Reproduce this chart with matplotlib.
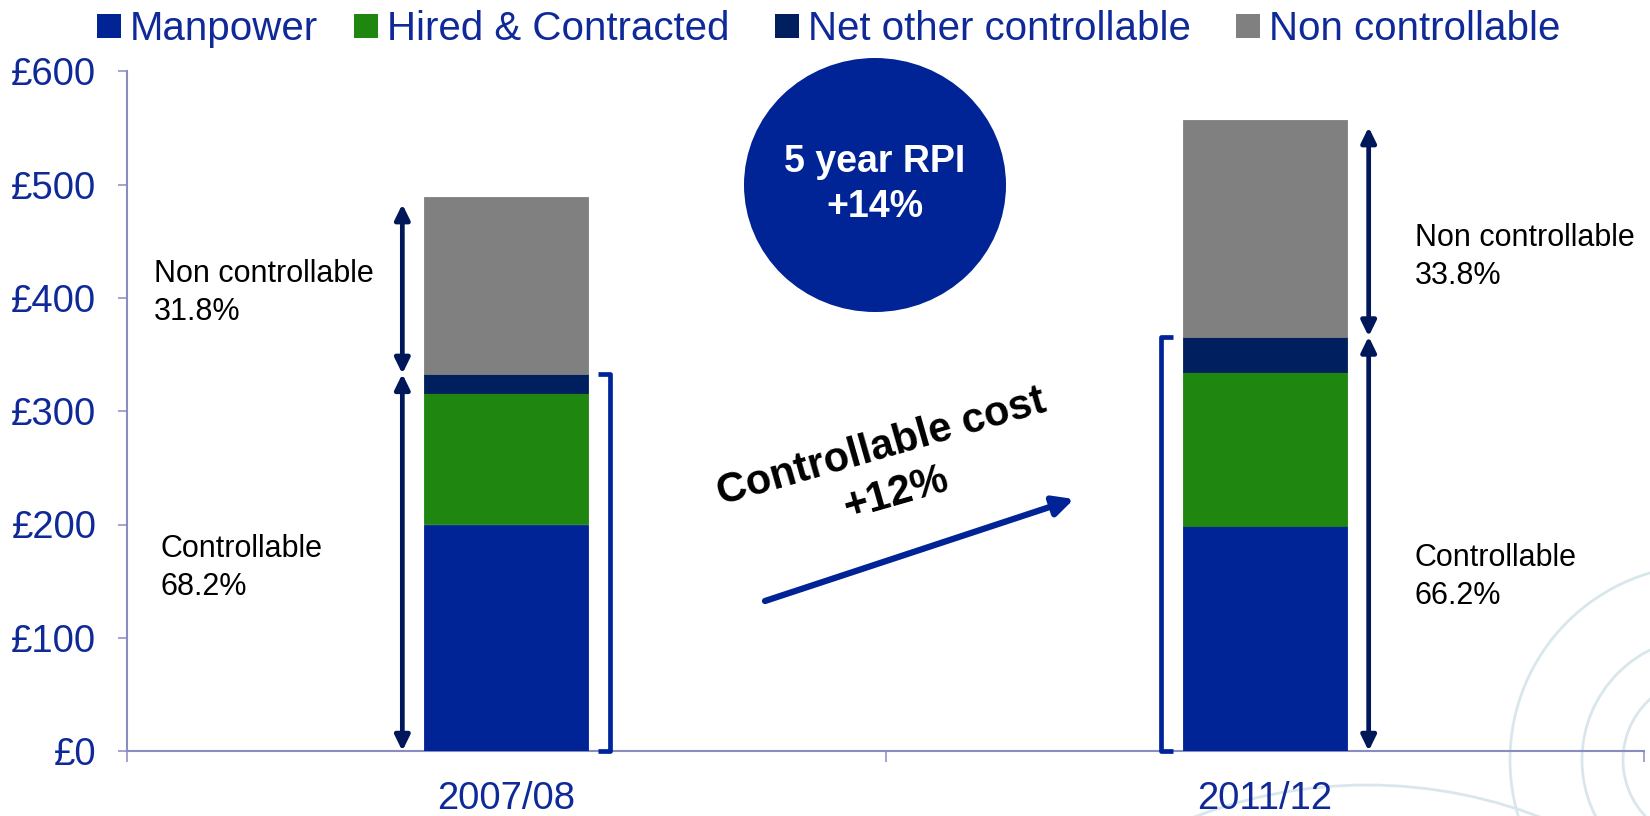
import matplotlib
matplotlib.use('Agg')
import matplotlib.pyplot as plt
from matplotlib.patches import Rectangle, Ellipse, Circle
import numpy as np

# ---------------- data ----------------
years = ['2007/08', '2011/12']
series_names = ['Manpower', 'Hired & Contracted', 'Net other controllable', 'Non controllable']
manpower = [200, 199]
hired = [116, 136]
net_other = [17, 31]
non_controllable = [156, 191]
ctrl_labels = [('Controllable', '68.2%'), ('Controllable', '66.2%')]
nonctrl_labels = [('Non controllable', '31.8%'), ('Non controllable', '33.8%')]
yticks = [0, 100, 200, 300, 400, 500, 600]
ytick_labels = ['£0', '£100', '£200', '£300', '£400', '£500', '£600']
rpi_text = ('5 year RPI', '+14%')
growth_text = ('Controllable cost', '+12%')

# ---------------- style ----------------
colors = ['#002395', '#1f860f', '#001f5f', '#808080']
TXT_BLUE = '#0f2a98'
AXIS_C = '#8a8cc0'
ARROW_C = '#00185a'
BRACKET_C = '#00259a'
DECO_C = '#d9e7ec'

plt.rcParams['font.family'] = ['Liberation Sans', 'DejaVu Sans']

W, H, DPI = 1650, 816, 100
fig = plt.figure(figsize=(W / DPI, H / DPI), dpi=DPI)
fig.patch.set_facecolor('white')


def fx(x):
    return x / W


def fy(y):
    return 1 - y / H


# decorative background arcs (template)
for (cx, cy, r) in [(1705, 760, 195), (1705, 760, 123), (1705, 760, 82), (1367, 1268, 483)]:
    fig.add_artist(Circle((cx / DPI, (H - cy) / DPI), r / DPI, transform=fig.dpi_scale_trans,
                          fill=False, ec=DECO_C, lw=2, zorder=-1))

ax = fig.add_axes([fx(127), fy(751), (1644 - 127) / W, (751 - 71.5) / H])
ax.patch.set_visible(False)

x = np.arange(len(years))
bw = 0.216
bottom = np.zeros(len(years))
for vals, c in zip([manpower, hired, net_other, non_controllable], colors):
    ax.bar(x, vals, bw, bottom=bottom, color=c, edgecolor=c, linewidth=0.6, zorder=3)
    bottom += np.array(vals)
totals = bottom
ctrl = np.array(manpower) + np.array(hired) + np.array(net_other)

ax.set_xlim(-0.5, 1.5)
ax.set_ylim(0, 600)
for s in ['top', 'right']:
    ax.spines[s].set_visible(False)
for s in ['left', 'bottom']:
    ax.spines[s].set_color(AXIS_C)
    ax.spines[s].set_linewidth(1.5)

ax.set_yticks(yticks, ytick_labels)
ax.tick_params(axis='y', length=6.5, width=1.1, color=AXIS_C, pad=15.5,
               labelsize=27.5, labelcolor=TXT_BLUE)
ax.set_xticks([-0.5, 0.5, 1.5])
ax.set_xticklabels([])
ax.set_xticks(x, minor=True)
ax.set_xticklabels(years, minor=True)
ax.tick_params(axis='x', which='major', length=8, width=1.1, color=AXIS_C)
ax.tick_params(axis='x', which='minor', length=0, pad=21.5, labelsize=27.5, labelcolor=TXT_BLUE)

# double arrows & brackets
arrow_side = [-1, 1]
off = 0.137
hook = 0.016
for i in range(len(years)):
    xa = x[i] + arrow_side[i] * off
    for (y1, y2, sh) in [(totals[i], ctrl[i], 5), (ctrl[i], 0, 0)]:
        ax.annotate('', xy=(xa, y2), xytext=(xa, y1),
                    arrowprops=dict(arrowstyle='<|-|>,head_length=0.45,head_width=0.22',
                                    mutation_scale=20, lw=3.4, color=ARROW_C,
                                    shrinkA=sh, shrinkB=0),
                    annotation_clip=False, zorder=4)
    xb = x[i] - arrow_side[i] * off
    hx = xb + arrow_side[i] * hook
    ax.plot([hx, xb, xb, hx], [ctrl[i], ctrl[i], 0, 0], color=BRACKET_C, lw=3.4,
            solid_joinstyle='round', solid_capstyle='butt', clip_on=False, zorder=4)

# legend (manual)
leg_sq_x = [97, 354, 775, 1236]
for name, c, sx in zip(series_names, colors, leg_sq_x):
    fig.add_artist(Rectangle((fx(sx), fy(38)), 24 / W, 24 / H, transform=fig.transFigure,
                             color=c, lw=0))
    fig.text(fx(sx + 33), fy(40), name, fontsize=29, color=TXT_BLUE, ha='left', va='baseline')

# side labels
lab_pos_non = [(154, 281.7), (1415, 246)]
lab_pos_ctrl = [(161, 556.7), (1415, 566)]
for i in range(len(years)):
    for (l1, l2), (lx, ly) in [(nonctrl_labels[i], lab_pos_non[i]), (ctrl_labels[i], lab_pos_ctrl[i])]:
        fig.text(fx(lx), fy(ly), l1, fontsize=22, color='black', ha='left', va='baseline')
        fig.text(fx(lx), fy(ly + 38.5), l2, fontsize=22, color='black', ha='left', va='baseline')

# RPI ellipse
fig.add_artist(Ellipse((fx(875), fy(185)), 262 / W, 254 / H, transform=fig.transFigure,
                       color='#002395', lw=0))
fig.text(fx(875), fy(171.7), rpi_text[0], fontsize=27, fontweight='bold', color='white',
         ha='center', va='baseline')
fig.text(fx(875), fy(216.7), rpi_text[1], fontsize=27, fontweight='bold', color='white',
         ha='center', va='baseline')

# controllable cost growth arrow and text
fig.add_artist(matplotlib.text.Annotation(
    '', xy=(fx(1074), fy(499)), xytext=(fx(765), fy(601)),
    xycoords='figure fraction', textcoords='figure fraction',
    arrowprops=dict(arrowstyle='-|>,head_length=0.6,head_width=0.3', mutation_scale=20,
                    lw=4.5, color='#002395', shrinkA=0, shrinkB=0)))
fig.text(fx(882), fy(448), growth_text[0], fontsize=30, fontweight='bold', color='black',
         ha='center', va='center', rotation=16, rotation_mode='anchor')
fig.text(fx(895.5), fy(493.5), growth_text[1], fontsize=30, fontweight='bold', color='black',
         ha='center', va='center', rotation=16, rotation_mode='anchor')

fig.savefig('out.png', dpi=DPI)
